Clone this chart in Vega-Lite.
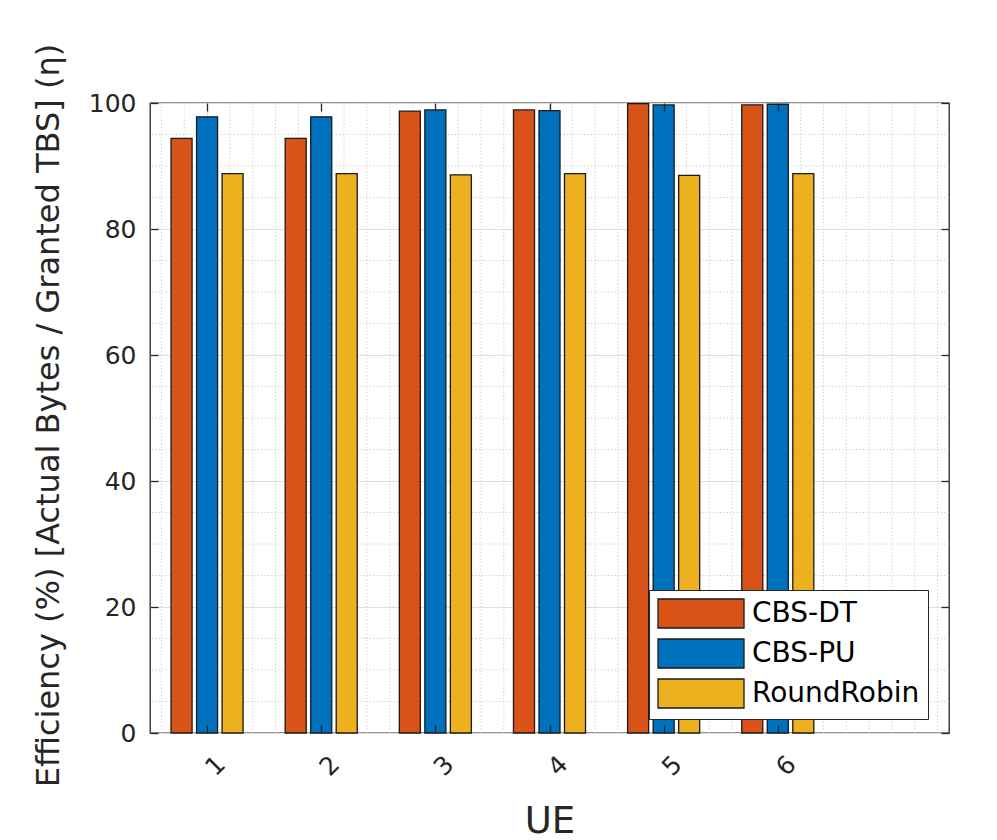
{
  "$schema": "https://vega.github.io/schema/vega-lite/v6.json",
  "width": 799,
  "height": 630,
  "autosize": {"type": "none"},
  "padding": {"left": 150, "top": 103, "right": 48, "bottom": 107},
  "background": "white",
  "config": {
    "view": {"stroke": "#262626", "strokeWidth": 1.3},
    "font": "DejaVu Sans"
  },
  "datasets": {
    "bars": [
      {"ue": "1", "method": "CBS-DT", "eff": 94.4},
      {"ue": "1", "method": "CBS-PU", "eff": 97.8},
      {"ue": "1", "method": "RoundRobin", "eff": 88.8},
      {"ue": "2", "method": "CBS-DT", "eff": 94.4},
      {"ue": "2", "method": "CBS-PU", "eff": 97.8},
      {"ue": "2", "method": "RoundRobin", "eff": 88.8},
      {"ue": "3", "method": "CBS-DT", "eff": 98.7},
      {"ue": "3", "method": "CBS-PU", "eff": 98.9},
      {"ue": "3", "method": "RoundRobin", "eff": 88.6},
      {"ue": "4", "method": "CBS-DT", "eff": 98.9},
      {"ue": "4", "method": "CBS-PU", "eff": 98.8},
      {"ue": "4", "method": "RoundRobin", "eff": 88.8},
      {"ue": "5", "method": "CBS-DT", "eff": 99.9},
      {"ue": "5", "method": "CBS-PU", "eff": 99.7},
      {"ue": "5", "method": "RoundRobin", "eff": 88.5},
      {"ue": "6", "method": "CBS-DT", "eff": 99.7},
      {"ue": "6", "method": "CBS-PU", "eff": 99.8},
      {"ue": "6", "method": "RoundRobin", "eff": 88.8}
    ],
    "yminor": [
      {"v": 5}, {"v": 10}, {"v": 15}, {"v": 25}, {"v": 30}, {"v": 35},
      {"v": 45}, {"v": 50}, {"v": 55}, {"v": 65}, {"v": 70}, {"v": 75},
      {"v": 85}, {"v": 90}, {"v": 95}
    ],
    "xminor": [
      {"v": 0.6}, {"v": 0.8}, {"v": 1.2}, {"v": 1.4}, {"v": 1.6}, {"v": 1.8},
      {"v": 2.2}, {"v": 2.4}, {"v": 2.6}, {"v": 2.8}, {"v": 3.2}, {"v": 3.4},
      {"v": 3.6}, {"v": 3.8}, {"v": 4.2}, {"v": 4.4}, {"v": 4.6}, {"v": 4.8},
      {"v": 5.2}, {"v": 5.4}, {"v": 5.6}, {"v": 5.8}, {"v": 6.2}, {"v": 6.4},
      {"v": 6.6}, {"v": 6.8}, {"v": 7.0}, {"v": 7.2}, {"v": 7.4}
    ]
  },
  "resolve": {"scale": {"x": "independent"}, "axis": {"x": "independent", "y": "independent"}},
  "layer": [
    {
      "data": {"name": "yminor"},
      "mark": {"type": "rule", "color": "#c9c9c9", "strokeWidth": 1, "strokeDash": [1.2, 2.2]},
      "encoding": {
        "y": {
          "field": "v", "type": "quantitative",
          "scale": {"domain": [0, 100], "nice": false, "zero": true},
          "axis": {
            "orient": "left", "zindex": 0,
            "values": [0, 20, 40, 60, 80, 100],
            "grid": true, "gridColor": "#dedede", "gridWidth": 1,
            "ticks": false, "domain": false,
            "labelFontSize": 25, "labelColor": "#262626", "labelPadding": 14,
            "labelFont": "DejaVu Sans",
            "title": "Efficiency (%) [Actual Bytes / Granted TBS] (η)",
            "titleFont": "DejaVu Sans",
            "titleFontSize": 32, "titleFontWeight": "normal", "titleColor": "#262626",
            "titleAngle": -90, "titleAlign": "center", "titleBaseline": "alphabetic",
            "titleX": -92, "titleY": 312
          }
        }
      }
    },
    {
      "data": {"name": "xminor"},
      "mark": {"type": "rule", "color": "#c9c9c9", "strokeWidth": 1, "strokeDash": [1.2, 2.2]},
      "encoding": {
        "x": {
          "field": "v", "type": "quantitative",
          "scale": {"domain": [0.5, 7.5], "nice": false, "zero": false},
          "axis": null
        }
      }
    },
    {
      "data": {"name": "bars"},
      "mark": {"type": "bar", "stroke": "#1a1a1a", "strokeWidth": 1.3},
      "encoding": {
        "x": {
          "field": "ue", "type": "ordinal",
          "scale": {"domain": ["1", "2", "3", "4", "5", "6", "7"], "paddingInner": 0, "paddingOuter": 0},
          "axis": {
            "orient": "bottom", "zindex": 0,
            "values": ["1", "2", "3", "4", "5", "6"],
            "bandPosition": 0.5,
            "grid": true, "gridColor": "#dedede", "gridWidth": 1,
            "ticks": false, "domain": false,
            "labelAngle": -45, "labelAlign": "center", "labelBaseline": "top",
            "labelPadding": 24, "labelFontSize": 25, "labelColor": "#262626",
            "labelFont": "DejaVu Sans",
            "title": "UE", "titleFont": "DejaVu Sans",
            "titleFontSize": 37, "titleFontWeight": "normal", "titleColor": "#262626",
            "titleBaseline": "alphabetic", "titleY": 99
          }
        },
        "xOffset": {
          "field": "method", "type": "nominal",
          "scale": {"domain": ["CBS-DT", "CBS-PU", "RoundRobin"], "paddingInner": 0.176, "paddingOuter": 0.825}
        },
        "y": {
          "field": "eff", "type": "quantitative",
          "scale": {"domain": [0, 100], "nice": false, "zero": true},
          "axis": null
        },
        "color": {
          "field": "method", "type": "nominal",
          "scale": {"domain": ["CBS-DT", "CBS-PU", "RoundRobin"], "range": ["#D95319", "#0072BD", "#EDB120"]},
          "legend": {
            "title": null, "orient": "none", "legendX": 499, "legendY": 487,
            "symbolType": "M-1,-1H4.931V1H-1Z", "symbolSize": 841,
            "symbolStrokeColor": "#1a1a1a", "symbolStrokeWidth": 1.3, "symbolOpacity": 1,
            "labelFontSize": 28, "labelFont": "DejaVu Sans", "labelColor": "#000000",
            "labelOffset": 64, "labelLimit": 0,
            "padding": 8, "rowPadding": 5,
            "strokeColor": "#262626", "fillColor": "#ffffff", "cornerRadius": 0
          }
        }
      }
    },
    {
      "data": {"name": "bars"},
      "mark": {"type": "point", "opacity": 0},
      "encoding": {
        "x": {
          "field": "ue", "type": "ordinal",
          "scale": {"domain": ["1", "2", "3", "4", "5", "6", "7"], "paddingInner": 0, "paddingOuter": 0},
          "axis": {
            "orient": "top", "zindex": 1, "values": ["1", "2", "3", "4", "5", "6"],
            "bandPosition": 0.5, "grid": false, "domain": false, "labels": false, "title": null,
            "ticks": true, "tickSize": -8, "tickColor": "#262626", "tickWidth": 1.3
          }
        },
        "y": {
          "field": "eff", "type": "quantitative",
          "scale": {"domain": [0, 100], "nice": false, "zero": true},
          "axis": {
            "orient": "right", "zindex": 1, "values": [0, 20, 40, 60, 80, 100],
            "grid": false, "domain": false, "labels": false, "title": null,
            "ticks": true, "tickSize": -8, "tickColor": "#262626", "tickWidth": 1.3
          }
        }
      }
    },
    {
      "data": {"name": "bars"},
      "mark": {"type": "point", "opacity": 0},
      "encoding": {
        "x": {
          "field": "ue", "type": "ordinal",
          "scale": {"domain": ["1", "2", "3", "4", "5", "6", "7"], "paddingInner": 0, "paddingOuter": 0},
          "axis": {
            "orient": "bottom", "zindex": 1, "values": ["1", "2", "3", "4", "5", "6"],
            "bandPosition": 0.5, "grid": false, "domain": false, "labels": false, "title": null,
            "ticks": true, "tickSize": -8, "tickColor": "#262626", "tickWidth": 1.3
          }
        },
        "y": {
          "field": "eff", "type": "quantitative",
          "scale": {"domain": [0, 100], "nice": false, "zero": true},
          "axis": {
            "orient": "left", "zindex": 1, "values": [0, 20, 40, 60, 80, 100],
            "grid": false, "domain": false, "labels": false, "title": null,
            "ticks": true, "tickSize": -8, "tickColor": "#262626", "tickWidth": 1.3
          }
        }
      }
    }
  ]
}
